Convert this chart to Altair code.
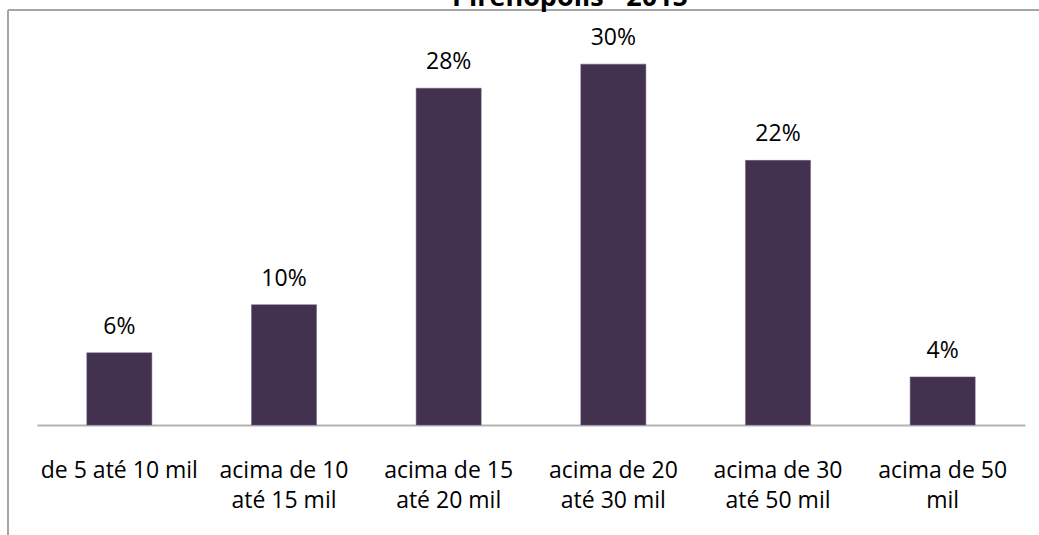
import altair as alt
import pandas as pd

categories = ["de 5 até 10 mil", "acima de 10|até 15 mil", "acima de 15|até 20 mil",
              "acima de 20|até 30 mil", "acima de 30|até 50 mil", "acima de 50|mil"]
values = [0.06, 0.10, 0.28, 0.30, 0.22, 0.04]
labels = ["6%", "10%", "28%", "30%", "22%", "4%"]
title_text = "Pirenópolis - 2015"

df = pd.DataFrame({"cat": categories, "val": values, "lab": labels})
FONT = "Open Sans"
BAR = "#42314F"

x = alt.X("cat:N", sort=categories, title=None,
          scale=alt.Scale(paddingInner=0.605, paddingOuter=0.3025),
          axis=alt.Axis(labelExpr="split(datum.label, '|')", labelAngle=0,
                        labelFont=FONT, labelFontSize=23, labelColor="#000000",
                        labelLineHeight=30, labelPadding=34, labelBaseline="top",
                        ticks=False, domainColor="#b3b3b3", domainWidth=2,
                        grid=False))
y = alt.Y("val:Q", title=None, scale=alt.Scale(domain=[0, 0.345], nice=False, zero=True),
          axis=None)

bars = alt.Chart(df).mark_bar(color=BAR, stroke="#6a5a80", strokeWidth=0.5).encode(x=x, y=y)
texts = alt.Chart(df).mark_text(font=FONT, fontSize=23, color="#000000", baseline="alphabetic",
                                dy=-19).encode(x=x, y=y, text="lab:N")

border_left = alt.Chart(pd.DataFrame({"a": [0]})).mark_rule(color="#a6a6a6", strokeWidth=2).encode(
    x=alt.value(-29), y=alt.value(0), y2=alt.value(540))
border_top = alt.Chart(pd.DataFrame({"a": [0]})).mark_rule(color="#a6a6a6", strokeWidth=2).encode(
    x=alt.value(-29), x2=alt.value(1010), y=alt.value(0))
title = alt.Chart(pd.DataFrame({"t": [title_text]})).mark_text(
    font=FONT, fontSize=27, fontWeight="bold", color="#000000", baseline="alphabetic"
).encode(x=alt.value(533), y=alt.value(-4), text="t:N")

chart = alt.layer(bars, texts, border_left, border_top, title).properties(
    width=988, height=415,
    background="white",
    view=alt.ViewBackground(strokeWidth=0, stroke="transparent"),
    autosize=alt.AutoSizeParams(type="none"),
    padding={"left": 37, "top": 10, "right": 14, "bottom": 110},
).configure_view(strokeWidth=0, stroke="transparent")

chart.save("out.html", embed_options={"renderer": "svg", "actions": False})
